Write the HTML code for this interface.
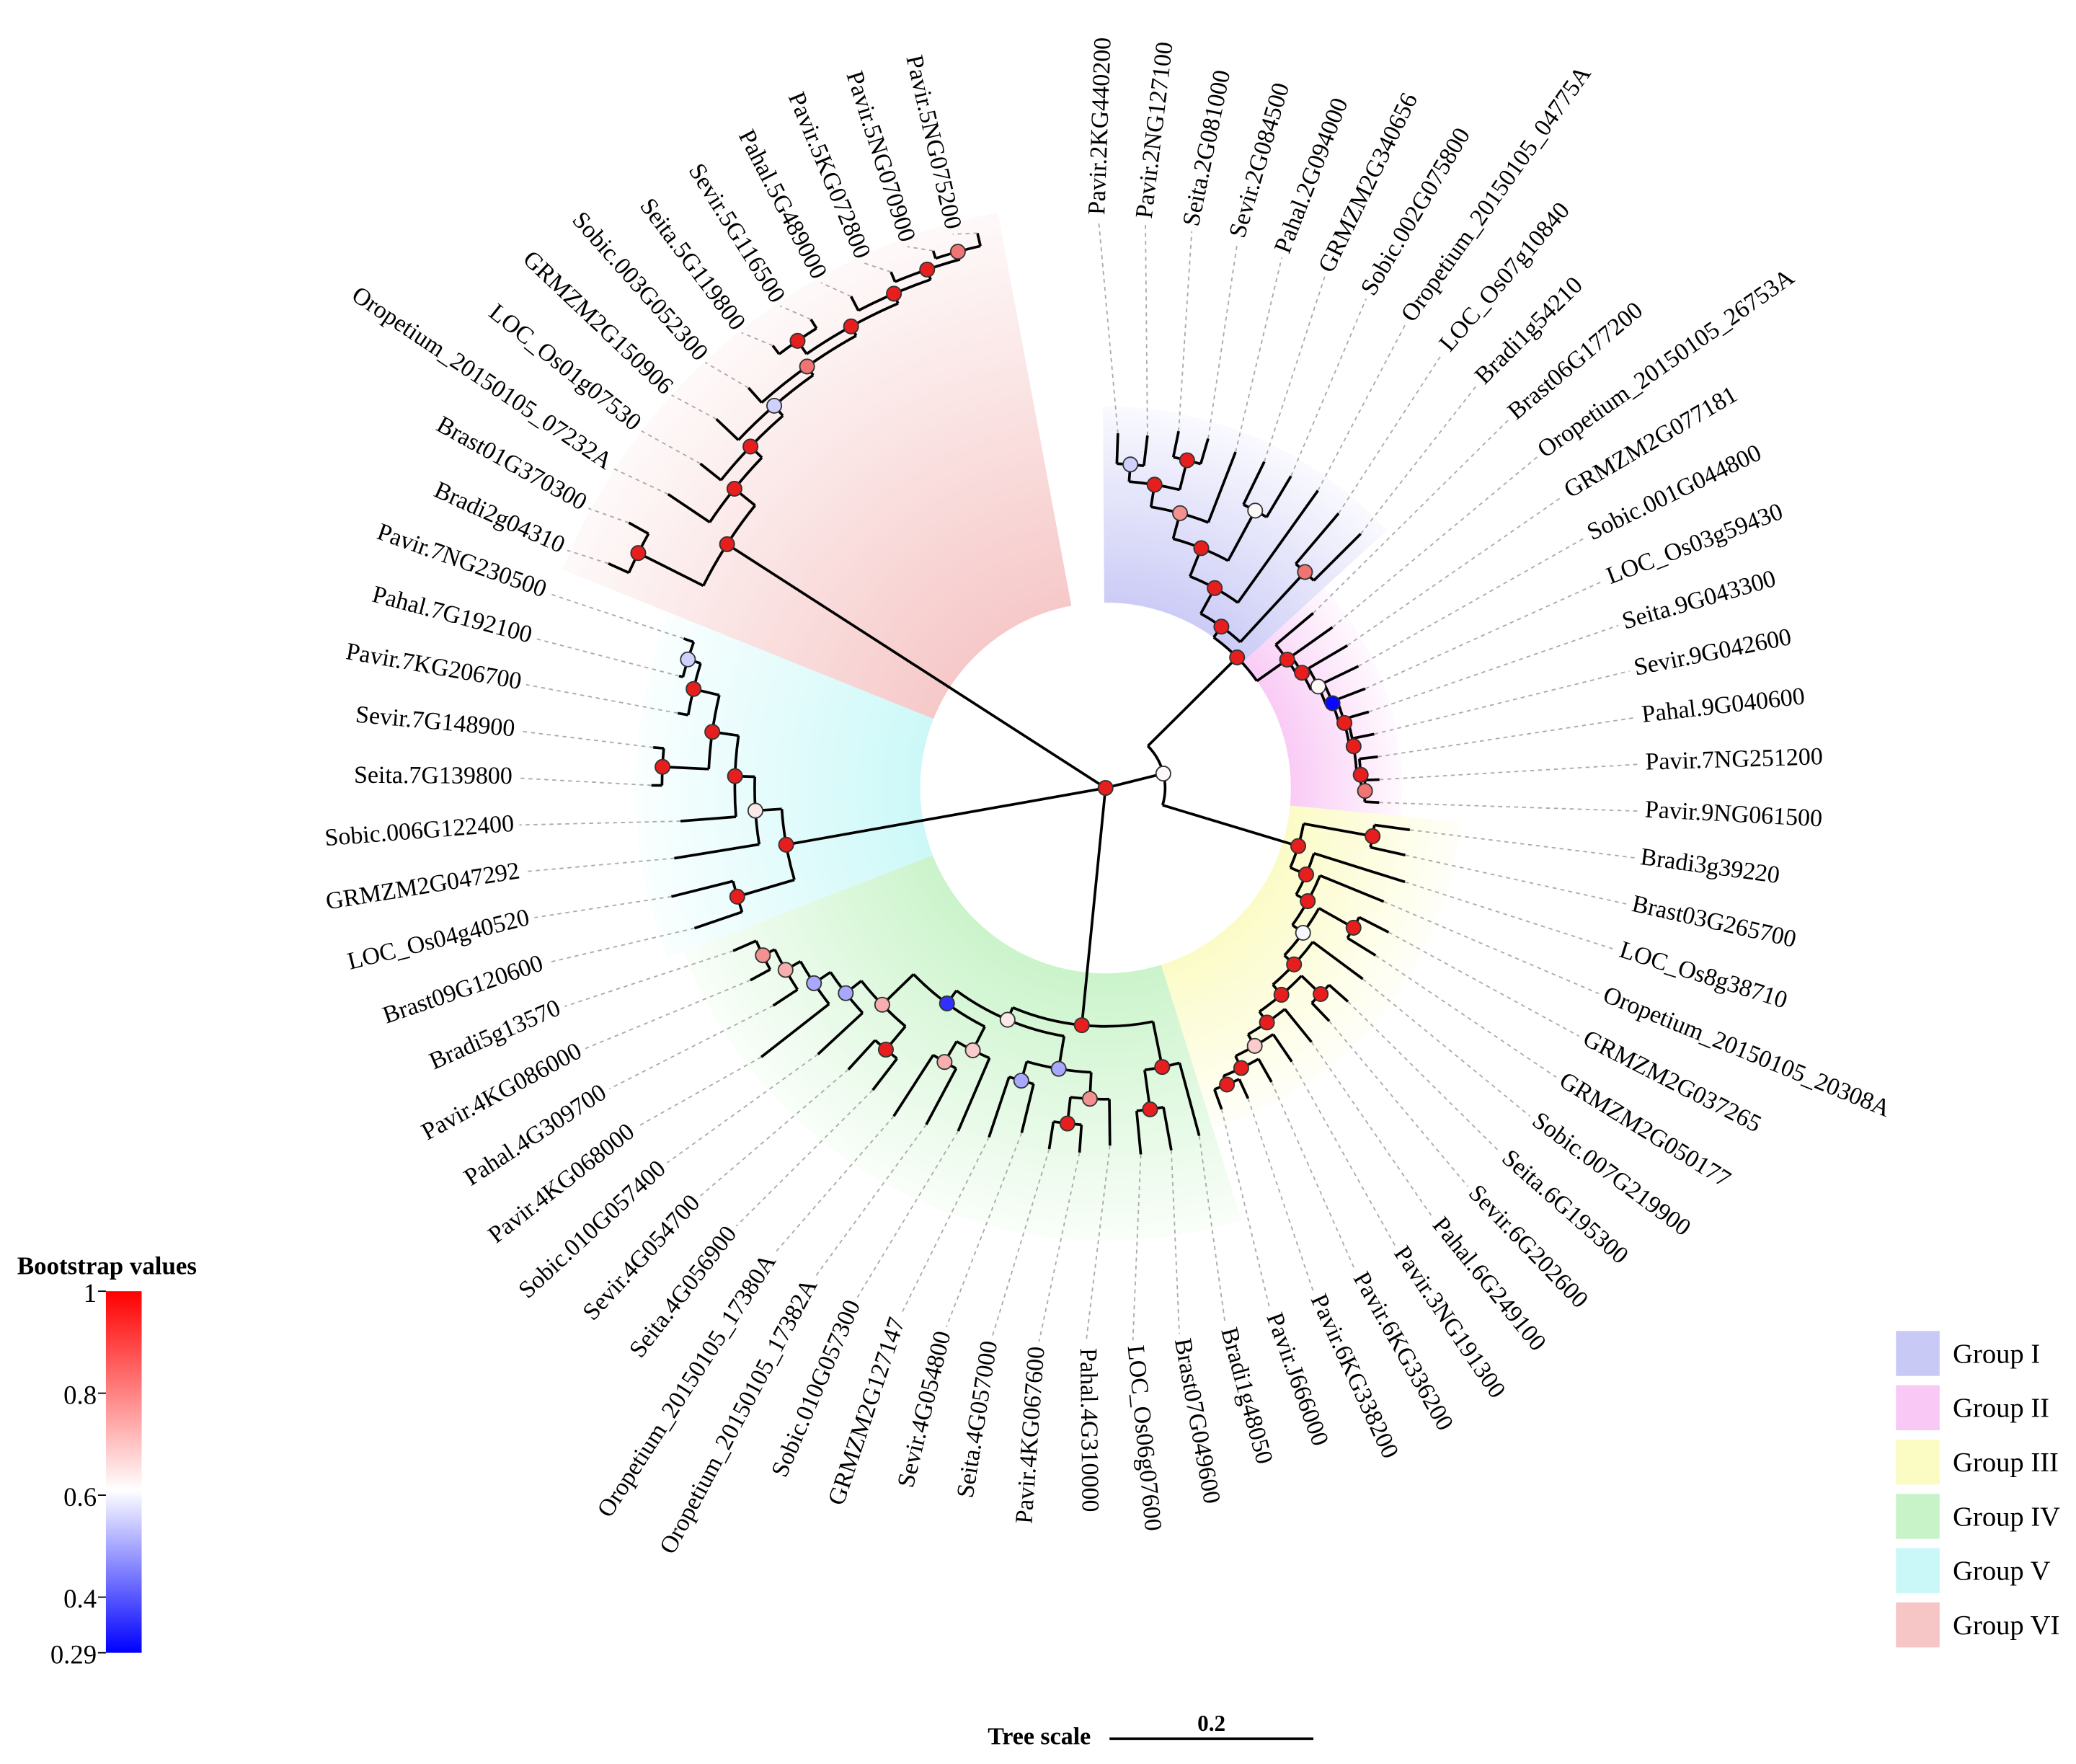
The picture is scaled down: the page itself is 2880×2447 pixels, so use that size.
<!DOCTYPE html>
<html><head><meta charset="utf-8"><style>
html,body{margin:0;padding:0;background:#fff;}
svg{display:block;}
text{font-family:"Liberation Serif",serif;}
</style></head><body>
<svg id="chart" width="2880" height="2447" viewBox="0 0 1568 1332" preserveAspectRatio="none" xmlns="http://www.w3.org/2000/svg">
<defs>
<linearGradient id="cbar" x1="0" y1="0" x2="0" y2="1">
<stop offset="0" stop-color="#ff0000"/><stop offset="0.55" stop-color="#ffffff"/><stop offset="1" stop-color="#0000ff"/>
</linearGradient>
</defs>
<g id="wedges"></g><g id="edges"></g><g id="leaders"></g><g id="nodes"></g><g id="labels"></g>

<g>
<text x="13" y="962" font-size="19" font-weight="bold">Bootstrap values</text>
<rect x="80" y="975" width="27" height="273" fill="url(#cbar)"/>
<g font-size="20" text-anchor="end">
<text x="73" y="983">1</text>
<text x="73" y="1060">0.8</text>
<text x="73" y="1137">0.6</text>
<text x="73" y="1214">0.4</text>
<text x="73" y="1256">0.29</text>
</g>
<g stroke="#000" stroke-width="1">
<line x1="74" y1="975" x2="80" y2="975"/><line x1="74" y1="1052" x2="80" y2="1052"/><line x1="74" y1="1129" x2="80" y2="1129"/><line x1="74" y1="1206" x2="80" y2="1206"/><line x1="74" y1="1248" x2="80" y2="1248"/>
</g>
</g>
<g id="grouplegend"></g>
<g>
<text x="746" y="1317" font-size="18.5" font-weight="bold">Tree scale</text>
<text x="915" y="1307" font-size="17" font-weight="bold" text-anchor="middle">0.2</text>
<line x1="838" y1="1313" x2="992" y2="1313" stroke="#000" stroke-width="2"/>
</g>
</svg>
<script>
// ---- data ----
const groupNames = ["Group I","Group II","Group III","Group IV","Group V","Group VI"];
const groupColors = ["#c9c9f6","#f9c8f5","#fbfbc4","#c8f3c8","#caf8f8","#f6c6c6"];
const groupSizes = [10,10,14,18,9,12];
function L(n,r){return {n:n,r:r};}
function N(r,b,c){return {r:r,b:b,c:c};}
const groupI = N(150,1,[ N(172,1,[ N(195,1,[ N(215,0.8,[ N(232,1,[ N(245,0.55,[L("Pavir.2KG440200",268),L("Pavir.2NG127100",268)]), N(255,1,[L("Seita.2G081000",275),L("Sevir.2G084500",275)]) ]), L("Pahal.2G094000",272) ]), N(238,0.62,[L("GRMZM2G340656",274),L("Sobic.002G075800",274)]) ]), L("Oropetium_20150105_04775A",276) ]), N(222,0.85,[L("LOC_Os07g10840",272),L("Bradi1g54210",272)]) ]);
const groupII = N(168,1,[ L("Brast06G177200",205), N(172,1,[ L("Oropetium_20150105_26753A",210), N(178,0.62,[ L("GRMZM2G077181",212), N(183,0.3,[ L("Sobic.001G044800",212), N(187,1,[ L("LOC_Os03g59430",210), N(190,1,[ L("Seita.9G043300",207), L("Sevir.9G042600",207), N(193,1,[ L("Pahal.9G040600",207), N(196,0.85,[L("Pavir.7NG251200",207),L("Pavir.9NG061500",207)]) ]) ]) ]) ]) ]) ]) ]);
const groupIII = N(152,1,[ N(205,1,[L("Bradi3g39220",232),L("Brast03G265700",232)]), N(165,1,[ L("LOC_Os8g38710",237), N(175,1,[ L("Oropetium_20150105_20308A",227), N(185,0.6,[ N(215,1,[L("GRMZM2G037265",240),L("GRMZM2G050177",240)]), N(195,1,[ L("Sobic.007G219900",242), N(205,1,[ N(225,1,[L("Seita.6G195300",244),L("Sevir.6G202600",244)]), N(215,1,[ L("Pahal.6G249100",247), N(225,0.7,[ L("Pavir.3NG191300",250), N(235,1,[ L("Pavir.6KG336200",255), N(242,1,[L("Pavir.6KG338200",258),L("Pavir.J666000",258)]) ]) ]) ]) ]) ]) ]) ]) ]) ]);
const groupIV = N(180,1,[ N(215,1,[ L("Bradi1g48050",272), N(245,1,[L("Brast07G049600",278),L("LOC_Os06g07600",278)]) ]), N(190,0.65,[ N(215,0.5,[ N(235,0.8,[ L("Pahal.4G310000",270), N(255,1,[L("Pavir.4KG067600",276),L("Seita.4G057000",276)]) ]), N(230,0.5,[L("Sevir.4G054800",268),L("GRMZM2G127147",278)]) ]), N(202,0.35,[ N(222,0.7,[ L("Sobic.010G057300",282), N(240,0.75,[L("Oropetium_20150105_17382A",288),L("Oropetium_20150105_17380A",295)]) ]), N(235,0.75,[ N(258,1,[L("Seita.4G056900",288),L("Sevir.4G054700",288)]), N(250,0.5,[ L("Sobic.010G057400",296), N(265,0.5,[ L("Pavir.4KG068000",330), N(278,0.75,[ L("Pahal.4G309700",300), N(288,0.8,[L("Pavir.4KG086000",305),L("Bradi5g13570",307)]) ]) ]) ]) ]) ]) ]) ]);
const groupV = N(245,1,[ N(290,1,[L("Brast09G120600",328),L("LOC_Os04g40520",338)]), N(265,0.65,[ L("GRMZM2G047292",330), N(280,1,[ L("Sobic.006G122400",322), N(300,1,[ N(335,1,[L("Seita.7G139800",343),L("Sevir.7G148900",343)]), N(320,1,[ L("Pavir.7KG206700",328), N(330,0.55,[L("Pahal.7G192100",333),L("Pavir.7NG230500",338)]) ]) ]) ]) ]) ]);
const groupVI = N(340,1,[ N(395,1,[L("Bradi2g04310",412),L("Brast01G370300",412)]), N(360,1,[ L("Oropetium_20150105_07232A",398), N(372,1,[ L("LOC_Os01g07530",392), N(382,0.55,[ L("GRMZM2G150906",405), N(390,0.85,[ L("Sobic.003G052300",405), N(398,1,[ N(410,1,[L("Seita.5G119800",418),L("Sevir.5G116500",418)]), N(406,1,[ L("Pahal.5G489000",418), N(414,1,[ L("Pavir.5KG072800",422), N(420,0.85,[L("Pavir.5NG070900",426),L("Pavir.5NG075200",430)]) ]) ]) ]) ]) ]) ]) ]) ]);
const tree = N(0,1,[ N(45,0.62,[ N(140,1,[groupI,groupII]), groupIII ]), groupIV, groupV, groupVI ]);

// ---- layout ----
const T={x:835,y:595};          // tree centre
const C={x:815,y:590}, LABEL_R=428, START=-88, STEP=345/72; // label circle
const NS="http://www.w3.org/2000/svg";
function el(t,a,p){const e=document.createElementNS(NS,t);for(const k in a)e.setAttribute(k,a[k]);document.getElementById(p).appendChild(e);return e;}
function pt(r,a){const t=a*Math.PI/180;return [T.x+r*Math.cos(t),T.y+r*Math.sin(t)];}
function lp(r,a){const t=a*Math.PI/180;return [C.x+r*Math.cos(t),C.y+r*Math.sin(t)];}
let idx=0; const leaves=[];
function layout(n){ if(!n.c){n.a=START+idx*STEP;idx++;leaves.push(n);return;} n.c.forEach(layout); n.a=(n.c[0].a+n.c[n.c.length-1].a)/2; }
layout(tree);
function bcol(v){ const t=Math.max(0,Math.min(1,(v-0.29)/0.71)); const mid=0.45;
  if(t<mid){const u=t/mid;return `rgb(${Math.round(255*u)},${Math.round(255*u)},255)`;}
  const u=(t-mid)/(1-mid);return `rgb(${Math.round(255-25*u)},${Math.round(255-225*u)},${Math.round(255-225*u)})`;}

// wedges
let off=0;
groupSizes.forEach((s,g)=>{
  const a1=START+off*STEP-STEP/2, a2=START+(off+s-1)*STEP+STEP/2;
  let maxr=0; for(let i=off;i<off+s;i++) maxr=Math.max(maxr,leaves[i].r);
  const r0=140, r1=maxr+12;
  const gid='wg'+g;
  const gr=el('radialGradient',{id:gid,cx:T.x,cy:T.y,r:r1,gradientUnits:'userSpaceOnUse'},'wedges');
  const s1=document.createElementNS(NS,'stop');s1.setAttribute('offset',r0/r1);s1.setAttribute('stop-color',groupColors[g]);s1.setAttribute('stop-opacity','0.95');gr.appendChild(s1);
  const s2=document.createElementNS(NS,'stop');s2.setAttribute('offset','1');s2.setAttribute('stop-color',groupColors[g]);s2.setAttribute('stop-opacity','0.1');gr.appendChild(s2);
  const p1=pt(r0,a1),p2=pt(r1,a1),p3=pt(r1,a2),p4=pt(r0,a2);
  const lg=(a2-a1)>180?1:0;
  const w=el('path',{d:`M${p1} L${p2} A${r1} ${r1} 0 ${lg} 1 ${p3} L${p4} A${r0} ${r0} 0 ${lg} 0 ${p1}Z`,fill:`url(#${gid})`,stroke:'none'},'wedges');
  
  
  off+=s;
});

// edges & nodes
function draw(n){
  if(!n.c) return;
  const f=n.c[0].a,l=n.c[n.c.length-1].a;
  if(n.r>0){const p1=pt(n.r,f),p2=pt(n.r,l);
    const arc=el('path',{d:`M${p1} A${n.r} ${n.r} 0 ${(l-f)>180?1:0} 1 ${p2}`,fill:'none',stroke:'#000','stroke-width':2},'edges');
    
    }
  n.c.forEach(ch=>{const a=pt(n.r,ch.a),b=pt(ch.r,ch.a);
    const ln=el('line',{x1:a[0],y1:a[1],x2:b[0],y2:b[1],stroke:'#000','stroke-width':2},'edges');
    
    
    draw(ch);});
  const p=pt(n.r,n.a);
  const cc=el('circle',{cx:p[0],cy:p[1],r:5.5,fill:bcol(n.b),stroke:'#333','stroke-width':1},'nodes');
  
  
}
draw(tree);

// leaders and labels
leaves.forEach(lf=>{
  const a=pt(lf.r,lf.a),b=lp(LABEL_R-4,lf.a);
  const d=el('line',{x1:a[0],y1:a[1],x2:b[0],y2:b[1],stroke:'#aaa','stroke-width':1,'stroke-dasharray':'3,3'},'leaders');
  
  
  const q=lp(LABEL_R,lf.a);
  let ang=lf.a; let anchor='start';
  const na=((ang%360)+360)%360;
  if(na>90&&na<270){ang=ang+180;anchor='end';}
  const t=el('text',{x:q[0],y:q[1],'font-size':18.5,'text-anchor':anchor,'dominant-baseline':'middle',transform:`rotate(${ang} ${q[0]} ${q[1]})`},'labels');
  t.textContent=lf.n;
  
  
});

// group legend
groupNames.forEach((g,i)=>{
  const y=1005+i*41;
  const r=el('rect',{x:1432,y:y,width:33,height:34,fill:groupColors[i]},'grouplegend');
  
  
  const t=el('text',{x:1475,y:y+24,'font-size':21},'grouplegend');
  t.textContent=g;
  
  
});
</script>
</body></html>
